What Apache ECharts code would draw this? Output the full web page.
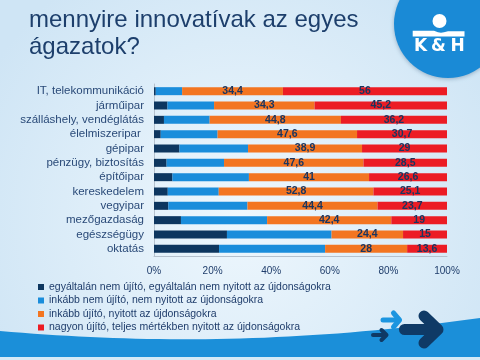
<!DOCTYPE html>
<html>
<head>
<meta charset="utf-8">
<script src="https://cdn.jsdelivr.net/npm/echarts@6/dist/echarts.min.js"></script>
<style>
html,body{margin:0;padding:0;}
#c{width:480px;height:360px;}
</style>
</head>
<body>
<div id="c"></div>
<script>
const categories = ['IT, telekommunikáció','járműipar','szálláshely, vendéglátás','élelmiszeripar ','gépipar','pénzügy, biztosítás','építőipar','kereskedelem','vegyipar','mezőgazdaság','egészségügy','oktatás'];
const seriesNames = ['egyáltalán nem újító, egyáltalán nem nyitott az újdonságokra','inkább nem újító, nem nyitott az újdonságokra','inkább újító, nyitott az újdonságokra','nagyon újító, teljes mértékben nyitott az újdonságokra'];
const notInnovative = [0.6, 4.6, 3.4, 2.3, 8.7, 4.3, 6.3, 4.7, 4.9, 9.2, 24.9, 22.2];
const ratherNot = [9.0, 15.9, 15.6, 19.4, 23.4, 19.6, 26.1, 17.4, 27.0, 29.4, 35.7, 36.2];
const ratherInnovative = [34.4, 34.3, 44.8, 47.6, 38.9, 47.6, 41, 52.8, 44.4, 42.4, 24.4, 28];
const veryInnovative = [56, 45.2, 36.2, 30.7, 29, 28.5, 26.6, 25.1, 23.7, 19, 15, 13.6];
const xTicks = [0, 20, 40, 60, 80, 100];
const titleText = 'mennyire innovatívak az egyes\nágazatok?';

const colors = ['#0d365f', '#1a8ddb', '#f37521', '#ec1c24'];
const navy = '#1f3d6b';
const fmt = v => String(v).replace('.', ',');

// decorative wave outline (cubic bezier sampled)
function cubic(p0, p1, p2, p3, n) {
  const pts = [];
  for (let k = 0; k <= n; k++) {
    const t = k / n, u = 1 - t;
    pts.push([
      u*u*u*p0[0] + 3*u*u*t*p1[0] + 3*u*t*t*p2[0] + t*t*t*p3[0],
      u*u*u*p0[1] + 3*u*u*t*p1[1] + 3*u*t*t*p2[1] + t*t*t*p3[1]
    ]);
  }
  return pts;
}
const wavePts = cubic([0, 331], [150, 344], [300, 343], [480, 318], 40).concat([[480, 360], [0, 360]]);

const chart = echarts.init(document.getElementById('c'), null, {renderer: 'canvas'});
const dataSets = [notInnovative, ratherNot, ratherInnovative, veryInnovative];
const series = dataSets.map((d, i) => ({
  name: seriesNames[i],
  type: 'bar',
  stack: 'total',
  barWidth: 8,
  data: d,
  itemStyle: {color: colors[i]},
  label: {
    show: i >= 2,
    position: 'inside',
    formatter: p => fmt(p.value),
    color: '#1a3560',
    fontFamily: 'Liberation Sans',
    fontWeight: 'bold',
    fontSize: 10.5
  },
  emphasis: {disabled: true}
}));

const bandPts = [[412.7, 30.8], [434, 30.8], [438, 32.3], [441, 32.8], [444, 32.3], [448, 31.3], [464.5, 31.3], [464.5, 36.5], [412.7, 36.5]];

chart.setOption({
  animation: false,
  title: {
    text: titleText,
    left: 29, top: 7, padding: 0,
    textStyle: {fontFamily: 'Liberation Sans', fontWeight: 'normal', fontSize: 24, lineHeight: 27, color: '#1d3f6c'}
  },
  graphic: [
    {type: 'rect', z: -100, shape: {x: 0, y: 0, width: 480, height: 360},
     style: {fill: new echarts.graphic.RadialGradient(0.5, 0.6, 0.8, [{offset: 0, color: '#eef7fd'}, {offset: 1, color: '#cfe5f5'}])}},
    {type: 'polygon', z: -50, shape: {points: wavePts}, style: {fill: '#1b8fd9'}},
    {type: 'rect', z: -49, shape: {x: 0, y: 357, width: 480, height: 3}, style: {fill: '#d5eaf7'}},
    {type: 'circle', z: -40, shape: {cx: 448, cy: 24, r: 54}, style: {fill: '#1a8ad6', shadowBlur: 4, shadowColor: 'rgba(0,40,80,0.3)', shadowOffsetY: 1}},
    {type: 'circle', z: -39, shape: {cx: 439.5, cy: 21, r: 7}, style: {fill: '#ffffff'}},
    {type: 'polygon', z: -39, shape: {points: bandPts}, style: {fill: '#ffffff'}},
    {type: 'text', z: -38, style: {text: 'K', x: 420.7, y: 47, align: 'center', verticalAlign: 'middle', fill: '#fff', font: 'bold 17px "DejaVu Sans"'}},
    {type: 'text', z: -38, style: {text: '&', x: 438.3, y: 47, align: 'center', verticalAlign: 'middle', fill: '#fff', font: 'bold 17px "DejaVu Sans"'}},
    {type: 'text', z: -38, style: {text: 'H', x: 457.5, y: 47, align: 'center', verticalAlign: 'middle', fill: '#fff', font: 'bold 17px "DejaVu Sans"'}},
    {type: 'polyline', z: -30, shape: {points: [[404.5, 329.5], [437, 329.5]]}, style: {stroke: '#0f3a66', lineWidth: 11, lineCap: 'round', lineJoin: 'round', fill: null}},
    {type: 'polyline', z: -30, shape: {points: [[424, 316], [438, 329.5], [424, 343]]}, style: {stroke: '#0f3a66', lineWidth: 11, lineCap: 'round', lineJoin: 'round', fill: null}},
    {type: 'polyline', z: -30, shape: {points: [[383, 320], [399, 320]]}, style: {stroke: '#1b95e0', lineWidth: 5, lineCap: 'round', fill: null}},
    {type: 'polyline', z: -30, shape: {points: [[393.5, 313], [399.5, 320], [393.5, 327]]}, style: {stroke: '#1b95e0', lineWidth: 5, lineCap: 'round', lineJoin: 'round', fill: null}},
    {type: 'polyline', z: -30, shape: {points: [[373, 335], [385, 335]]}, style: {stroke: '#0f3a66', lineWidth: 4, lineCap: 'round', fill: null}},
    {type: 'polyline', z: -30, shape: {points: [[381.5, 330], [386.5, 335], [381.5, 340]]}, style: {stroke: '#0f3a66', lineWidth: 4, lineCap: 'round', lineJoin: 'round', fill: null}}
  ],
  legend: {
    orient: 'vertical',
    left: 38, top: 281, padding: 0,
    itemWidth: 6, itemHeight: 6, itemGap: 1.5,
    icon: 'rect',
    selectedMode: false,
    data: seriesNames,
    textStyle: {fontFamily: 'Liberation Sans', fontSize: 10.5, lineHeight: 12, color: navy}
  },
  grid: {left: 154, right: 33, top: 84, bottom: 104, containLabel: false},
  xAxis: {
    type: 'value', min: xTicks[0], max: xTicks[xTicks.length - 1], interval: 20,
    axisLine: {show: true, lineStyle: {color: '#b5c1cd', width: 1}},
    axisTick: {show: false},
    splitLine: {show: false},
    axisLabel: {formatter: '{value}%', fontFamily: 'Liberation Sans', fontSize: 10, color: navy, margin: 10}
  },
  yAxis: {
    type: 'category', data: categories, inverse: true,
    axisLine: {show: true, lineStyle: {color: '#b5c1cd', width: 1}},
    axisTick: {show: false},
    axisLabel: {interval: 0, fontFamily: 'Liberation Sans', fontSize: 11.5, color: '#2a4a78', margin: 10}
  },
  series: series
});
</script>
</body>
</html>
